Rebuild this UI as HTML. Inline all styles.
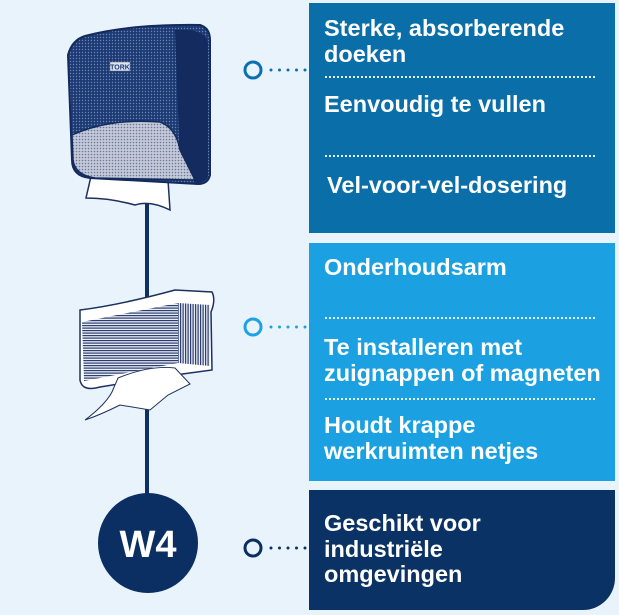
<!DOCTYPE html>
<html><head><meta charset="utf-8"><style>
html,body{margin:0;padding:0;width:619px;height:615px;overflow:hidden;background:#e9f3fc;font-family:"Liberation Sans",sans-serif}
.p{position:absolute;left:309px;width:306px;color:#fff;font-weight:bold;font-size:23.5px;line-height:25.5px}
.t{position:absolute;left:15px;white-space:nowrap}
.d{position:absolute;left:16px;width:270px;border-top:2.5px dotted rgba(255,255,255,.9)}
</style></head><body>
<svg width="619" height="615" style="position:absolute;left:0;top:0">
<defs>
<pattern id="dots" width="3" height="3" patternUnits="userSpaceOnUse"><rect width="3" height="3" fill="#1d3a73"/><circle cx="1.5" cy="1.5" r="0.7" fill="#6c83b5"/></pattern>
<pattern id="gdots" width="3" height="3" patternUnits="userSpaceOnUse"><rect width="3" height="3" fill="#c3c9d9"/><circle cx="1.5" cy="1.5" r="0.8" fill="#6d7797"/></pattern>
<pattern id="lines" width="4" height="2.5" patternUnits="userSpaceOnUse"><rect width="4" height="2.5" fill="#e9eef8"/><rect width="4" height="1.2" fill="#2c3d6e"/></pattern>
<pattern id="vlines" width="2.5" height="4" patternUnits="userSpaceOnUse"><rect width="2.5" height="4" fill="#e9eef8"/><rect width="1.2" height="4" fill="#2c3d6e"/></pattern>
</defs>
<line x1="147" y1="195" x2="147" y2="500" stroke="#0d2f62" stroke-width="4"/>
<path d="M92 172 L168 180 L170 210 Q150 200 135 205 Q110 198 86 198 Z" fill="#fff" stroke="#1d3060" stroke-width="1.5"/>
<path d="M68 55 Q72 40 85 36 Q130 24 200 25 Q210 28 210 40 L210 175 Q208 184 198 184 L90 178 Q72 176 72 160 Z" fill="url(#dots)" stroke="#132a5c" stroke-width="2"/>
<path d="M175 30 Q208 28 208 45 L208 175 Q205 184 195 183 L180 165 Z" fill="#132b5e"/>
<path d="M72 135 Q110 118 160 122 Q176 128 180 150 L195 180 L95 178 Q75 175 73 160 Z" fill="url(#gdots)" stroke="#132a5c" stroke-width="1.5"/>
<rect x="110" y="62" width="20" height="9" fill="#dfe6f2" stroke="#556" stroke-width=".5"/>
<text x="120" y="69.5" font-size="7" font-weight="bold" text-anchor="middle" fill="#1d3a73" font-family="Liberation Sans">TORK</text>
<path d="M80 310 Q120 305 175 290 L212 292 Q216 300 211 312 L212 370 L175 375 L100 387 Q82 392 80 380 Z" fill="#fff" stroke="#1d3060" stroke-width="1.5"/>
<path d="M82 322 L178 303 L178 363 L84 381 Z" fill="url(#lines)"/>
<path d="M178 303 L210 305 L210 366 L178 363 Z" fill="url(#vlines)"/>
<path d="M118 378 Q150 365 175 368 L190 384 L168 395 L150 410 L120 405 Q100 415 85 420 Q105 405 112 392 Z" fill="#fff" stroke="#1d3060" stroke-width="1"/>
<circle cx="148" cy="543" r="50" fill="#0b2f62"/>
<text x="148" y="557" font-size="38" font-weight="bold" text-anchor="middle" fill="#fff" font-family="Liberation Sans">W4</text>
<circle cx="253" cy="70" r="8" fill="none" stroke="#0a70b2" stroke-width="3"/>
<line x1="271" y1="70" x2="306" y2="70" stroke="#0a70b2" stroke-width="3" stroke-dasharray="0 8.5" stroke-linecap="round"/>
<circle cx="253" cy="327" r="8" fill="none" stroke="#1ea2e6" stroke-width="3"/>
<line x1="271" y1="327" x2="306" y2="327" stroke="#1ea2e6" stroke-width="3" stroke-dasharray="0 8.5" stroke-linecap="round"/>
<circle cx="253" cy="548" r="8" fill="none" stroke="#0b2f62" stroke-width="3"/>
<line x1="271" y1="548" x2="306" y2="548" stroke="#0b2f62" stroke-width="3" stroke-dasharray="0 8.5" stroke-linecap="round"/>
</svg>
<div class="p" style="top:3px;height:230px;background:#0a6fa9">
<div class="t" style="top:13px">Sterke, absorberende<br>doeken</div>
<div class="d" style="top:73px"></div>
<div class="t" style="top:89px">Eenvoudig te vullen</div>
<div class="d" style="top:152px"></div>
<div class="t" style="top:170px;left:18px">Vel-voor-vel-dosering</div>
</div>
<div class="p" style="top:243px;height:238px;background:#1ba1e2">
<div class="t" style="top:12px">Onderhoudsarm</div>
<div class="d" style="top:74px"></div>
<div class="t" style="top:92px">Te installeren met<br>zuignappen of magneten</div>
<div class="d" style="top:155px"></div>
<div class="t" style="top:170px">Houdt krappe<br>werkruimten netjes</div>
</div>
<div class="p" style="top:490px;height:120px;background:#0b3264;border-bottom-right-radius:32px">
<div class="t" style="top:21px">Geschikt voor<br>industriële<br>omgevingen</div>
</div>
</body></html>
